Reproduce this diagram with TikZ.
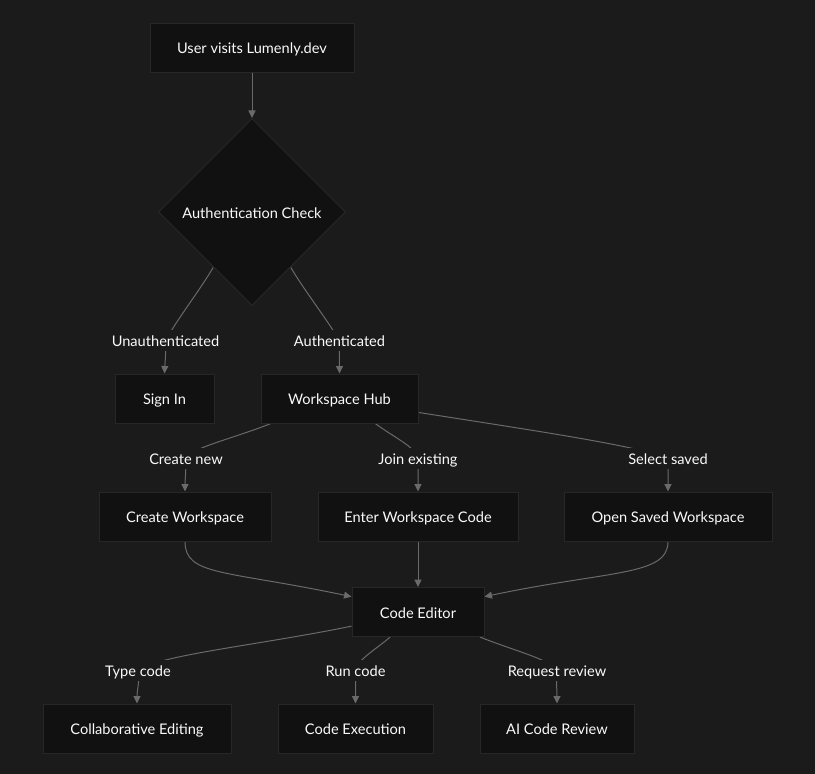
\documentclass[tikz,border=0pt]{standalone}
\usepackage{fontspec}
\setmainfont{Lato}
\usetikzlibrary{shapes.geometric,arrows.meta}
\definecolor{bgc}{HTML}{1B1B1B}
\definecolor{nodefill}{HTML}{111111}
\definecolor{nodeline}{HTML}{272727}
\definecolor{edgec}{HTML}{6A6A6A}
\definecolor{txt}{HTML}{FAFAFA}
\pgfdeclarelayer{bglayer}
\pgfdeclarelayer{edgelayer}
\pgfsetlayers{bglayer,edgelayer,main}
\begin{document}
\begin{tikzpicture}[x=1pt,y=-1pt,
  lbl/.style={font=\fontsize{14.6}{17}\selectfont, text=txt, text height=12.5pt, text depth=0pt},
  box/.style={lbl, draw=nodeline, fill=nodefill, line width=1pt, minimum height=49pt, inner sep=0pt},
  decision/.style={lbl, diamond, aspect=1, draw=nodeline, fill=nodefill, line width=1pt, minimum width=187pt, minimum height=187pt, inner sep=0pt},
  elabel/.style={lbl, fill=bgc, inner xsep=2pt, inner ysep=0pt, minimum height=21pt},
  edge/.style={draw=edgec, line width=1pt, -{Triangle[length=7.5pt,width=7pt]}}]
\useasboundingbox (0,0) rectangle (815,774);
\begin{pgfonlayer}{bglayer}
  \fill[bgc] (0,0) rectangle (815,774);
\end{pgfonlayer}

% nodes
\node[box, minimum width=204pt] (user) at (252,47.5) {User visits Lumenly.dev};
\node[decision] (auth) at (252,212) {Authentication Check};
\node[box, minimum width=99pt] (signin) at (164.5,398.5) {Sign In};
\node[box, minimum width=157pt] (hub) at (339.5,398.5) {Workspace Hub};
\node[box, minimum width=172pt] (cw) at (185,516.5) {Create Workspace};
\node[box, minimum width=200pt] (ew) at (418,516.5) {Enter Workspace Code};
\node[box, minimum width=208pt] (os) at (668,516.5) {Open Saved Workspace};
\node[box, minimum width=132pt] (ce) at (418,612) {Code Editor};
\node[box, minimum width=188pt] (ced) at (137,728.5) {Collaborative Editing};
\node[box, minimum width=155pt] (cex) at (355.5,728.5) {Code Execution};
\node[box, minimum width=154pt] (air) at (557,728.5) {AI Code Review};

% edge labels
\node[elabel] (lu) at (165.5,340.5) {Unauthenticated};
\node[elabel] (la) at (339.5,340.5) {Authenticated};
\node[elabel] (cn) at (186,458.5) {Create new};
\node[elabel] (je) at (418,458.5) {Join existing};
\node[elabel] (ss) at (668,458.5) {Select saved};
\node[elabel] (tc) at (138,670.5) {Type code};
\node[elabel] (rc) at (355.5,670.5) {Run code};
\node[elabel] (rr) at (557,670.5) {Request review};

% edges
\begin{pgfonlayer}{edgelayer}
  \draw[edge] (user) -- (auth);
  \draw[edge] (auth.235) .. controls (200,290) and (178,318) .. (lu.center) .. controls (166,355) and (165,362) .. (signin.north);
  \draw[edge] (auth.305) .. controls (304,290) and (326,318) .. (la.center) .. controls (339,355) and (339.5,362) .. (hub.north);
  \draw[edge] (hub.200) .. controls (235,438) and (190,448) .. (cn.center) .. controls (186,472) and (185,480) .. (cw.north);
  \draw[edge] (hub.325) .. controls (395,438) and (417,448) .. (je.center) .. controls (418,472) and (418,480) .. (ew.north);
  \draw[edge] (hub.350) .. controls (530,430) and (640,446) .. (ss.center) .. controls (668,470) and (668,480) .. (os.north);
  \draw[edge] (cw.south) .. controls (185,576) and (225,570) .. (ce.167);
  \draw[edge] (ew.south) -- (ce.north);
  \draw[edge] (os.south) .. controls (668,576) and (611,570) .. (ce.13);
  \draw[edge] (ce.192) .. controls (260,645) and (158,655) .. (tc.center) .. controls (140,680) and (137,690) .. (ced.north);
  \draw[edge] (ce.222) .. controls (375,650) and (357,660) .. (rc.center) .. controls (355.5,680) and (355.5,690) .. (cex.north);
  \draw[edge] (ce.338) .. controls (512,650) and (552,660) .. (rr.center) .. controls (556,682) and (557,690) .. (air.north);
\end{pgfonlayer}
\end{tikzpicture}
\end{document}
